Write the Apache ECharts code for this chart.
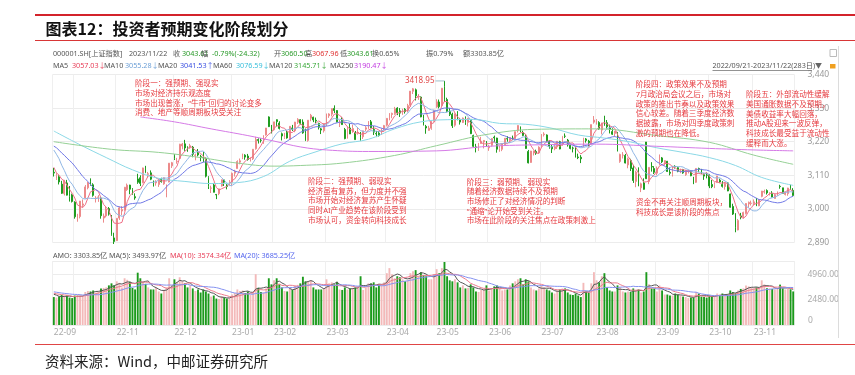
<!DOCTYPE html>
<html><head><meta charset="utf-8">
<script src="https://cdn.jsdelivr.net/npm/echarts@6/dist/echarts.min.js"></script>
<style>html,body{margin:0;padding:0;background:#fff}#c{width:855px;height:375px}</style>
</head><body><div id="c"></div>
<script>
// ---------- trading days (category axis) ----------
const monthDays = [
 ['2022-09',[21,22,23,26,27,28,29,30]],
 ['2022-10',[10,11,12,13,14,17,18,19,20,21,24,25,26,27,28,31]],
 ['2022-11',[1,2,3,4,7,8,9,10,11,14,15,16,17,18,21,22,23,24,25,28,29,30]],
 ['2022-12',[1,2,5,6,7,8,9,12,13,14,15,16,19,20,21,22,23,26,27,28,29,30]],
 ['2023-01',[3,4,5,6,9,10,11,12,13,16,17,18,19,20,30,31]],
 ['2023-02',[1,2,3,6,7,8,9,10,13,14,15,16,17,20,21,22,23,24,27,28]],
 ['2023-03',[1,2,3,6,7,8,9,10,13,14,15,16,17,20,21,22,23,24,27,28,29,30,31]],
 ['2023-04',[3,4,6,7,10,11,12,13,14,17,18,19,20,21,24,25,26,27,28]],
 ['2023-05',[4,5,8,9,10,11,12,15,16,17,18,19,22,23,24,25,26,29,30,31]],
 ['2023-06',[1,2,5,6,7,8,9,12,13,14,15,16,19,20,21,26,27,28,29,30]],
 ['2023-07',[3,4,5,6,7,10,11,12,13,14,17,18,19,20,21,24,25,26,27,28,31]],
 ['2023-08',[1,2,3,4,7,8,9,10,11,14,15,16,17,18,21,22,23,24,25,28,29,30,31]],
 ['2023-09',[1,4,5,6,7,8,11,12,13,14,15,18,19,20,21,22,25,26,27,28]],
 ['2023-10',[9,10,11,12,13,16,17,18,19,20,23,24,25,26,27,30,31]],
 ['2023-11',[1,2,3,6,7,8,9,10,13,14,15,16,17,20,21,22]]
];
const hiddenMonthLabels = ['2022-10'];

// ---------- 000001.SH daily [open, close, low, high] ----------
const ohlc = [
// 2022-09
[3120,3117.18,3106,3134],[3100,3108.91,3095,3117],[3105,3088.37,3080,3110],[3081,3051.23,3049,3092],[3050,3093.86,3044,3094],[3085,3045.07,3044,3095],[3060,3041.20,3024,3075],[3046,3024.39,3021,3050],
// 2022-10
[3022,2974.15,2968,3025],[2970,2979.79,2958,2984],[2975,3025.51,2969,3026],[3012,3016.36,3005,3031],[3036,3071.99,3034,3078],[3069,3084.94,3064,3089],[3090,3080.96,3076,3100],[3079,3044.38,3040,3084],[3035,3035.05,3021,3042],[3038,3038.93,3023,3045],[3035,2977.56,2968,3038],[2970,2976.28,2955,2985],[2977,2999.50,2972,3008],[3001,2982.90,2978,3006],[2975,2915.93,2912,2980],[2905,2893.48,2885.09,2922],
// 2022-11
[2896,2969.20,2895,2970],[2970,3003.37,2964,3008],[2993,2997.81,2979,3009],[2997,3070.80,2994,3072],[3063,3077.82,3059,3083],[3078,3064.49,3048,3079],[3063,3048.17,3046,3068],[3040,3036.13,3030,3051],[3098,3087.29,3082,3115],[3102,3083.40,3075,3110],[3086,3134.08,3084,3135],[3133,3119.98,3117,3141],[3113,3115.43,3102,3121],[3118,3097.24,3094,3126],[3086,3085.04,3073,3093],[3085,3088.94,3076,3094],[3080,3096.91,3072,3099],[3098,3089.31,3086,3102],[3082,3101.69,3079,3103],[3055,3078.55,3038,3080],[3088,3149.75,3087,3150],[3141,3151.34,3134,3154],
// 2022-12
[3175,3165.47,3160,3179],[3155,3156.14,3148,3167],[3165,3211.81,3163,3213],[3206,3212.53,3195,3216],[3213,3199.62,3190,3226],[3200,3197.35,3187,3205],[3200,3206.95,3197,3213],[3202,3179.04,3169,3206],[3175,3176.33,3159,3181],[3184,3176.53,3172,3196],[3171,3168.65,3156,3177],[3169,3167.86,3153,3186],[3166,3107.12,3103,3168],[3102,3073.77,3065,3107],[3068,3068.41,3052,3076],[3078,3054.43,3054,3085],[3047,3045.87,3032,3049],[3050,3065.56,3045,3066],[3075,3095.57,3073,3096],[3095,3087.40,3075,3097],[3078,3073.70,3064,3081],[3081,3089.26,3076,3094],
// 2023-01
[3087,3116.51,3074,3119],[3117,3123.52,3106,3128],[3132,3155.22,3132,3159],[3153,3157.64,3146,3165],[3168,3176.08,3163,3181],[3176,3169.51,3161,3179],[3173,3161.84,3158,3180],[3162,3163.45,3155,3169],[3164,3195.31,3160,3196],[3197,3227.59,3194,3236],[3227,3224.24,3214,3231],[3225,3224.41,3217,3231],[3221,3240.28,3213,3241],[3242,3264.81,3240,3265],[3301,3269.32,3268,3303],[3268,3255.67,3247,3275],
// 2023-02
[3259,3284.92,3256,3285],[3292,3285.67,3270,3293],[3281,3263.41,3260,3287],[3246,3238.70,3224,3250],[3234,3248.09,3229,3249],[3250,3232.11,3230,3257],[3227,3270.38,3227,3271],[3265,3260.67,3255,3275],[3256,3284.16,3251,3285],[3284,3293.28,3278,3297],[3292,3280.49,3276,3294],[3284,3249.03,3246,3293],[3247,3224.02,3222,3263],[3224,3290.34,3220,3291],[3297,3306.52,3287,3311],[3300,3291.16,3284,3302],[3290,3287.48,3281,3299],[3280,3267.16,3260,3282],[3262,3258.03,3245,3265],[3256,3279.61,3250,3280],
// 2023-03
[3275,3311.16,3271,3312],[3305,3310.65,3298,3313],[3310,3328.39,3303,3329],[3329,3322.03,3314,3339],[3322,3285.10,3283,3323],[3281,3283.25,3268,3291],[3290,3276.09,3275,3300],[3260,3230.08,3228,3265],[3232,3268.70,3230,3269],[3265,3245.31,3245,3280],[3255,3263.31,3249,3276],[3250,3226.89,3226,3255],[3247,3250.55,3243,3268],[3245,3234.91,3223,3252],[3236,3255.65,3229,3256],[3261,3265.65,3255,3271],[3265,3286.65,3262,3287],[3285,3265.70,3264,3291],[3260,3251.40,3242,3271],[3247,3245.38,3235,3255],[3248,3240.06,3237,3255],[3243,3261.25,3242,3264],[3262,3272.86,3258,3275],
// 2023-04
[3274,3296.40,3270,3297],[3298,3312.56,3290,3314],[3309,3312.63,3297,3315],[3312,3327.65,3308,3334],[3330,3315.36,3307,3333],[3321,3313.57,3301,3330],[3317,3327.18,3308,3328],[3326,3318.36,3312,3330],[3322,3338.15,3316,3344],[3339,3385.61,3334,3386],[3385,3393.33,3376,3396],[3390,3370.13,3355,3394],[3365,3367.03,3357,3376],[3366,3301.26,3300,3368],[3295,3275.41,3273,3308],[3270,3264.87,3246,3275],[3257,3264.10,3256,3272],[3264,3285.88,3259,3287],[3287,3323.28,3286,3324],
// 2023-05
[3334,3350.46,3331,3359],[3350,3334.50,3329,3358],[3338,3395.00,3336,3396],[3400,3357.67,3350,3418.95],[3358,3319.15,3316,3364],[3319,3309.55,3304,3330],[3310,3272.36,3265,3315],[3274,3310.75,3269,3312],[3311,3290.99,3290,3320],[3291,3284.23,3276,3298],[3283,3297.32,3281,3299],[3297,3283.54,3275,3303],[3283,3296.47,3270,3298],[3293,3246.24,3245,3294],[3240,3204.75,3201,3243],[3203,3201.26,3185,3213],[3200,3212.50,3190,3216],[3214,3221.45,3213,3236],[3219,3224.21,3198,3225],[3213,3204.56,3203,3222],
// 2023-06
[3200,3204.63,3190,3209],[3208,3230.07,3204,3232],[3235,3232.44,3218,3240],[3232,3195.34,3184,3233],[3197,3197.76,3187,3206],[3195,3213.59,3189,3214],[3210,3231.41,3206,3232],[3230,3228.83,3220,3238],[3225,3233.67,3215,3235],[3232,3228.99,3225,3240],[3230,3252.98,3229,3253],[3256,3273.33,3250,3274],[3268,3255.81,3251,3270],[3250,3240.36,3238,3256],[3238,3197.90,3197,3244],[3188,3150.62,3149,3193],[3152,3189.38,3151,3190],[3183,3189.44,3175,3190],[3188,3182.38,3177,3194],[3183,3202.06,3180,3205],
// 2023-07
[3204,3243.98,3200,3245],[3243,3245.35,3237,3251],[3242,3222.95,3220,3244],[3221,3205.23,3197,3225],[3203,3196.61,3183,3210],[3197,3203.70,3192,3210],[3203,3221.37,3196,3222],[3220,3196.13,3195,3223],[3208,3236.48,3206,3239],[3238,3237.70,3232,3247],[3225,3209.63,3204,3229],[3208,3197.82,3195,3214],[3199,3198.84,3185,3204],[3200,3169.52,3168,3203],[3170,3167.75,3163,3181],[3169,3164.16,3150,3176],[3205,3231.52,3203,3233],[3229,3223.98,3217,3232],[3222,3216.67,3205,3226],[3212,3275.93,3211,3276],[3284,3291.04,3279,3304],
// 2023-08
[3289,3290.95,3276,3294],[3283,3261.69,3259,3287],[3258,3280.46,3244,3282],[3294,3288.08,3272,3305],[3282,3268.83,3263,3291],[3266,3260.62,3247,3276],[3253,3244.49,3242,3264],[3247,3254.56,3237,3255],[3251,3189.25,3188,3252],[3155,3178.43,3151,3181],[3176,3176.18,3165,3186],[3175,3150.13,3149,3180],[3144,3163.74,3133,3168],[3158,3131.95,3124,3164],[3134,3092.98,3085,3144],[3090,3120.33,3071,3125],[3121,3078.40,3074,3136],[3069,3082.24,3055,3086],[3085,3064.07,3063,3100],[3219,3098.64,3098,3219],[3090,3135.89,3081,3137],[3139,3137.14,3122,3153],[3132,3119.88,3114,3140],
// 2023-09
[3117,3133.25,3110,3139],[3148,3177.06,3143,3178],[3167,3154.37,3150,3170],[3150,3158.08,3142,3159],[3156,3122.35,3121,3157],[3120,3116.72,3110,3136],[3113,3137.06,3106,3141],[3139,3137.24,3132,3143],[3135,3123.07,3120,3138],[3122,3126.55,3117,3132],[3129,3117.74,3115,3131],[3112,3125.93,3108,3128],[3123,3124.25,3116,3128],[3124,3108.57,3107,3126],[3098,3084.70,3081,3105],[3087,3132.43,3085,3133],[3132,3130.09,3120,3135],[3127,3115.61,3114,3131],[3112,3107.32,3095,3116],[3111,3110.48,3100,3119],
// 2023-10
[3113,3075.24,3068,3114],[3080,3072.83,3068,3095],[3078,3078.96,3068,3087],[3086,3107.90,3085,3108],[3094,3088.10,3086,3099],[3080,3073.81,3070,3091],[3073,3083.50,3063,3086],[3085,3058.71,3058,3088],[3049,3005.39,3004,3050],[3008,2983.06,2980,3017],[2985,2939.29,2923.51,2986],[2931,2962.24,2930,2967],[2977,2974.12,2966,2987],[2974,2988.30,2969,2991],[2985,3017.78,2982,3019],[3016,3021.55,3004,3024],[3018,3018.77,3011,3027],
// 2023-11
[3017,3023.08,3012,3031],[3025,3009.41,3009,3036],[3010,3030.80,3009,3031],[3041,3058.41,3038,3059],[3055,3057.27,3050,3063],[3060,3052.37,3047,3064],[3050,3053.28,3044,3055],[3050,3038.97,3038,3058],[3034,3046.53,3034,3049],[3047,3056.07,3043,3057],[3074,3072.83,3066,3079],[3069,3050.93,3050,3069],[3047,3054.37,3044,3055],[3050,3068.32,3043,3069],[3068,3067.93,3062,3079],[3060.50,3043.61,3043.61,3067.96]
];

// turnover (亿元)
const amount = [
2750,2700,2800,2950,2850,2900,2700,2650,
2900,2950,2900,2850,3250,3350,3300,3400,3200,3300,3600,3650,3700,3900,4100,3900,
4300,4150,3700,4600,4450,4250,3650,3500,5150,4600,4200,4050,3700,3500,3500,3650,3300,3100,3450,3700,4600,3950,
4500,4200,4700,4300,4100,3700,3900,3600,3350,3500,3200,3500,3300,3100,2800,2900,2600,2550,2850,2700,2600,2650,
3000,3150,3500,3350,3400,3150,3300,2950,3250,5000,3650,3250,3200,3600,4600,4000,
4400,4600,4000,3700,3350,3300,3600,3450,3900,3950,4100,4750,4300,4300,4400,3700,3500,3500,3500,3600,
4500,4100,4200,4000,4250,3500,3450,3700,3500,3600,3650,3700,3800,4800,3450,3650,4100,4100,4200,3700,4000,4000,4200,
5100,5600,5000,4600,4800,4700,4500,4300,4400,5100,5300,5400,4750,5200,4900,4800,4500,4500,5000,
5500,5100,5600,6200,4800,4400,4300,4500,4200,3700,3900,3600,3650,4000,3700,3300,3250,3450,3500,3900,
3400,3600,3800,3900,3600,3400,3500,3500,3900,4100,4300,4500,4600,4000,4500,4300,3700,3500,3400,3600,
3900,3700,3500,3400,3200,3100,3400,3500,3600,3600,3200,3000,2950,3100,2900,2750,4150,3300,3200,4100,5200,
4400,4200,4800,5100,3700,3400,3300,3300,3900,3700,3300,3200,3300,3250,3600,3400,3500,3200,3300,5200,4000,3600,3600,
3300,3900,3400,3000,3000,2900,2900,3100,3000,2900,2800,2750,2650,2700,2700,3250,3100,2800,2750,2700,
2900,2850,2850,3100,2900,3100,3000,3000,3400,3250,3150,3400,3550,3600,3900,3800,3700,
3600,3700,3650,4400,4000,3612,3600,3550,3500,3650,3974,3600,3500,3550,3515,3303.85
];

// 19 sessions before 2022-09-21 (needed for the short moving averages)
const preClose = [3215.20,3246.25,3236.22,3240.73,3227.22,3202.14,3184.98,3186.48,3199.91,3243.45,3246.29,3235.59,3262.05,3263.80,3237.54,3199.92,3126.40,3115.60,3122.41];
const preAmount = [3500,3600,3700,3500,3400,3300,3300,3200,3100,3400,3300,3200,3300,3250,3150,3100,3400,3000,2850];

// long moving averages: [session index, value]
const ma60Pts = [[0,3255],[10,3210],[20,3168],[30,3128],[40,3100],[50,3090],[60,3083],[70,3086],[80,3106],[90,3156],[100,3187],[110,3213],[120,3228],[130,3262],[140,3285],[150,3292],[160,3293],[170,3280],[180,3277],[190,3264],[200,3242],[210,3232],[220,3219],[230,3200],[240,3185],[250,3168],[260,3142],[270,3103],[282,3077]];
const ma120Pts = [[0,3220],[22,3195],[40,3185],[56,3168],[70,3150],[84,3140],[94,3142],[110,3150],[130,3175],[146,3207],[166,3245],[186,3261],[207,3262],[230,3240],[250,3218],[267,3176],[282,3146]];
const ma250Pts = [[33,3301],[46,3285],[60,3262],[74,3240],[84,3222],[94,3203],[104,3193],[120,3188],[146,3190],[166,3205],[186,3210],[207,3212],[230,3205],[250,3198],[267,3193],[282,3190]];

// stage divider sessions, extreme marks
const stageIdx = [23, 84, 146, 219, 261];
const lowMark = {idx: 23, value: 2885.09};
const highMark = {idx: 149, value: 3418.95};

// price / volume axis ticks
const priceTicks = {min: 2890, max: 3440, step: 110};
const volTicks = {min: 0, max: 6300, step: 2480};

// texts
const stageTexts = [
 ['阶段一：强预期、强现实','市场对经济持乐观态度','市场出现普涨，“牛市”回归的讨论变多','消费、地产等顺周期板块受关注'],
 ['阶段二：强预期、弱现实','经济虽有复苏，但力度并不强','市场开始对经济复苏产生怀疑','同时AI产业趋势在该阶段受到','市场认可，资金转向科技成长'],
 ['阶段三：弱预期、弱现实','随着经济数据持续不及预期','市场修正了对经济情况的判断','“通缩”论开始受到关注。','市场在此阶段的关注焦点在政策刺激上'],
 ['阶段四：政策效果不及预期','7月政治局会议之后，市场对','政策的推出节奏以及政策效果','信心较差。随着三季度经济数','据披露，市场对四季度政策刺','激的预期也在降低。'],
 ['资金不再关注顺周期板块，','科技成长是该阶段的焦点'],
 ['阶段五：外部流动性缓解','美国通胀数据不及预期，','美债收益率大幅回落，','推动A股迎来一波反弹，','科技成长最受益于流动性','缓释而大涨。']
];

// ---------- build ----------
const dates = [];
const monthStart = new Set(), labelStart = new Set();
monthDays.forEach(([m, days]) => {
  monthStart.add(dates.length);
  if (!hiddenMonthLabels.includes(m)) labelStart.add(dates.length);
  days.forEach(d => dates.push(m + '-' + String(d).padStart(2, '0')));
});
const closes = ohlc.map(r => r[1]);
function movAvg(pre, vals, n) {
  const src = pre.concat(vals), P = pre.length;
  return vals.map((_, i) => { let s = 0; for (let k = 0; k < n; k++) s += src[P + i - k]; return +(s / n).toFixed(2); });
}
const FONT = "'Noto Sans CJK SC','Noto Sans',sans-serif";
const FONTL = "'Noto Sans','Noto Sans CJK SC',sans-serif";
const UP = '#f5b3b3', UPB = '#ec8a8a', DOWN = '#1f9c1f';
const volData = amount.map((v, i) => ({value: v, itemStyle: {color: ohlc[i][1] >= ohlc[i][0] ? '#f3b9b9' : '#1c9a1c'}}));

const g = [];
function T(x, y, text, color, size, extra) {
  g.push(Object.assign({type: 'text', x: x, y: y, z: 100, silent: true,
    style: Object.assign({text: text, fill: color, fontSize: size, fontFamily: FONTL, verticalAlign: 'middle', align: 'left'}, extra || {})}));
}
function L(x1, y1, x2, y2, color, w) {
  g.push({type: 'line', z: 100, silent: true, shape: {x1, y1, x2, y2}, style: {stroke: color, lineWidth: w}});
}
function M(x, firstY, lines) {
  const lh = 9.7;
  g.push({type: 'text', x: x, y: firstY - lh / 2, z: 100, silent: true,
    style: {text: lines.join('\n'), fill: '#e63a3f', fontSize: 7.6, lineHeight: lh, fontFamily: FONTL, verticalAlign: 'top', align: 'left'}});
}
// title band
L(35, 15, 855, 15, '#d3232b', 2);
L(35, 40.5, 855, 40.5, '#d83636', 1);
T(45.5, 29, '图表12：投资者预期变化阶段划分', '#111', 16, {fontWeight: 'bold', fontFamily: FONT});
L(35, 344.5, 855, 344.5, '#e04545', 1.2);
T(45, 361.5, '资料来源：Wind，中邮证券研究所', '#222', 14.5, {fontFamily: FONT});
// clip area at right border
g.push({type: 'rect', z: 95, silent: true, shape: {x: 838.5, y: 44, width: 17, height: 298}, style: {fill: '#fff'}});
L(838.5, 46, 838.5, 338, '#dcdcdc', 1);
// header rows
const GR = '#555', GN = '#2a9a2a', RD = '#e03535', HS = 7.2;
T(53, 53.5, '000001.SH[上证指数]', GR, HS); T(129, 53.5, '2023/11/22', GR, HS);
T(173, 53.5, '收', GR, HS); T(182, 53.5, '3043.61', GN, HS);
T(201, 53.5, '幅', GR, HS); T(212, 53.5, '-0.79%(-24.32)', GN, HS);
T(274, 53.5, '开', GR, HS); T(281, 53.5, '3060.50', GN, HS);
T(305, 53.5, '高', GR, HS); T(312, 53.5, '3067.96', RD, HS);
T(340, 53.5, '低', GR, HS); T(347, 53.5, '3043.61', GN, HS);
T(372, 53.5, '换0.65%', GR, HS); T(426, 53.5, '振0.79%', GR, HS); T(463, 53.5, '额3303.85亿', GR, HS);
T(53, 66, 'MA5', GR, HS); T(72, 66, '3057.03↓', '#e8405a', HS);
T(104, 66, 'MA10', GR, HS); T(125, 66, '3055.28↓', '#6c9fd6', HS);
T(158, 66, 'MA20', GR, HS); T(180, 66, '3041.53↑', '#3a4fe0', HS);
T(213, 66, 'MA60', GR, HS); T(236, 66, '3076.59↓', '#3cc0dc', HS);
T(269, 66, 'MA120', GR, HS); T(294, 66, '3145.71↓', '#3aa83a', HS);
T(330, 66, 'MA250', GR, HS); T(354, 66, '3190.47↓', '#c23be0', HS);
T(712.5, 65.5, '2022/09/21-2023/11/22(283日)', GR, 7.2); L(712.5, 70.5, 812, 70.5, '#777', 0.8);
T(815, 65.5, '▼', '#666', 7);
g.push({type: 'rect', z: 100, silent: true, shape: {x: 830, y: 64, width: 5.5, height: 4.5}, style: {fill: '#f0a020'}});
g.push({type: 'rect', z: 100, silent: true, shape: {x: 830, y: 49.5, width: 6.5, height: 7}, style: {fill: 'none', stroke: '#bbb', lineWidth: 1}});
// AMO row
T(53, 256, 'AMO: 3303.85亿', GR, HS); T(109, 256, 'MA(5): 3493.97亿', GR, HS);
T(170, 256, 'MA(10): 3574.34亿', '#e8405a', HS); T(234, 256, 'MA(20): 3685.25亿', '#5566ee', HS);
// volume axis base label (drawn slightly above the base line, as in the source)
T(808, 320.5, '0', '#aaa', 8.5);
// annotations
M(135, 84, stageTexts[0]);
M(308, 181.7, stageTexts[1]);
M(466.7, 182.5, stageTexts[2]);
M(635.7, 85, stageTexts[3]);
M(636, 202.7, stageTexts[4]);
M(746, 95, stageTexts[5]);

const line = (name, data, color, xi, yi, smooth) => ({
  name, type: 'line', data, xAxisIndex: xi, yAxisIndex: yi, showSymbol: false, symbol: 'none',
  smooth: smooth || false, lineStyle: {width: 1, color}, itemStyle: {color}, silent: true, z: 3
});
const mk = (m, color) => ({
  coord: [dates[m.idx], m.value], symbol: 'rect', symbolSize: [9, 1], symbolOffset: [-4.5, 0],
  itemStyle: {color: '#9fc0cc'},
  label: {show: true, position: 'left', distance: 1, color, fontSize: 8, fontFamily: FONTL, formatter: m.value.toFixed(2)}
});

const splitX = {show: true, interval: (i) => monthStart.has(i), lineStyle: {color: '#efefef', width: 1}};
const option = {
  animation: false,
  textStyle: {fontFamily: FONTL},
  grid: [
    {left: 52.5, width: 742, top: 74.5, height: 168},
    {left: 52.5, width: 742, top: 261, height: 64}
  ],
  xAxis: [
    {type: 'category', gridIndex: 0, data: dates, boundaryGap: true,
     axisLine: {show: false}, axisTick: {show: false}, axisLabel: {show: false}, splitLine: splitX},
    {type: 'category', gridIndex: 1, data: dates, boundaryGap: true,
     axisLine: {show: false}, axisTick: {show: false}, splitLine: splitX,
     axisLabel: {interval: (i) => labelStart.has(i), formatter: v => v.slice(2, 7), align: 'left',
                 color: '#aaa', fontSize: 8.5, margin: 3}}
  ],
  yAxis: [
    {type: 'value', gridIndex: 0, position: 'right', min: priceTicks.min, max: priceTicks.max, interval: priceTicks.step,
     axisLine: {show: false}, axisTick: {show: false},
     axisLabel: {color: '#9a9a9a', fontSize: 8.5, margin: 13},
     splitLine: {lineStyle: {color: '#ececec'}}},
    {type: 'value', gridIndex: 1, position: 'right', min: volTicks.min, max: volTicks.max, interval: volTicks.step,
     axisLine: {show: false}, axisTick: {show: false},
     axisLabel: {color: '#aaa', fontSize: 8.5, margin: 13, showMaxLabel: false, showMinLabel: false,
                 formatter: v => v === 0 ? '' : v.toFixed(2) + '亿'},
     splitLine: {lineStyle: {color: '#ececec'}}}
  ],
  series: [
    {name: 'K', type: 'candlestick', data: ohlc, xAxisIndex: 0, yAxisIndex: 0, clip: false, barWidth: '50%',
     itemStyle: {color: UP, color0: DOWN, borderColor: UPB, borderColor0: DOWN, borderWidth: 1},
     markLine: {silent: true, symbol: ['none', 'none'], label: {show: false},
       lineStyle: {color: '#111', width: 2, type: 'solid'},
       data: stageIdx.map(i => [{coord: [dates[i], 3455]}, {coord: [dates[i], 2888]}])},
     markPoint: {silent: true, data: [mk(lowMark, '#3c9a3c'), mk(highMark, '#e04848')]}},
    line('MA5', movAvg(preClose, closes, 5), '#ee6f86', 0, 0),
    line('MA10', movAvg(preClose, closes, 10), '#8fb6e4', 0, 0),
    line('MA20', movAvg(preClose, closes, 20), '#7179e6', 0, 0),
    line('MA60', ma60Pts, '#8ad8e6', 0, 0, 0.4),
    line('MA120', ma120Pts, '#95d095', 0, 0, 0.4),
    line('MA250', ma250Pts, '#d57ae6', 0, 0, 0.4),
    {name: 'AMO', type: 'bar', data: volData, xAxisIndex: 1, yAxisIndex: 1, barWidth: '72%', silent: true},
    line('VMA5', movAvg(preAmount, amount, 5), '#555', 1, 1),
    line('VMA10', movAvg(preAmount, amount, 10), '#ec7a8c', 1, 1),
    line('VMA20', movAvg(preAmount, amount, 20), '#8592f0', 1, 1)
  ],
  graphic: g
};
const chart = echarts.init(document.getElementById('c'), null, {renderer: 'canvas'});
chart.setOption(option);
</script>
</body></html>
